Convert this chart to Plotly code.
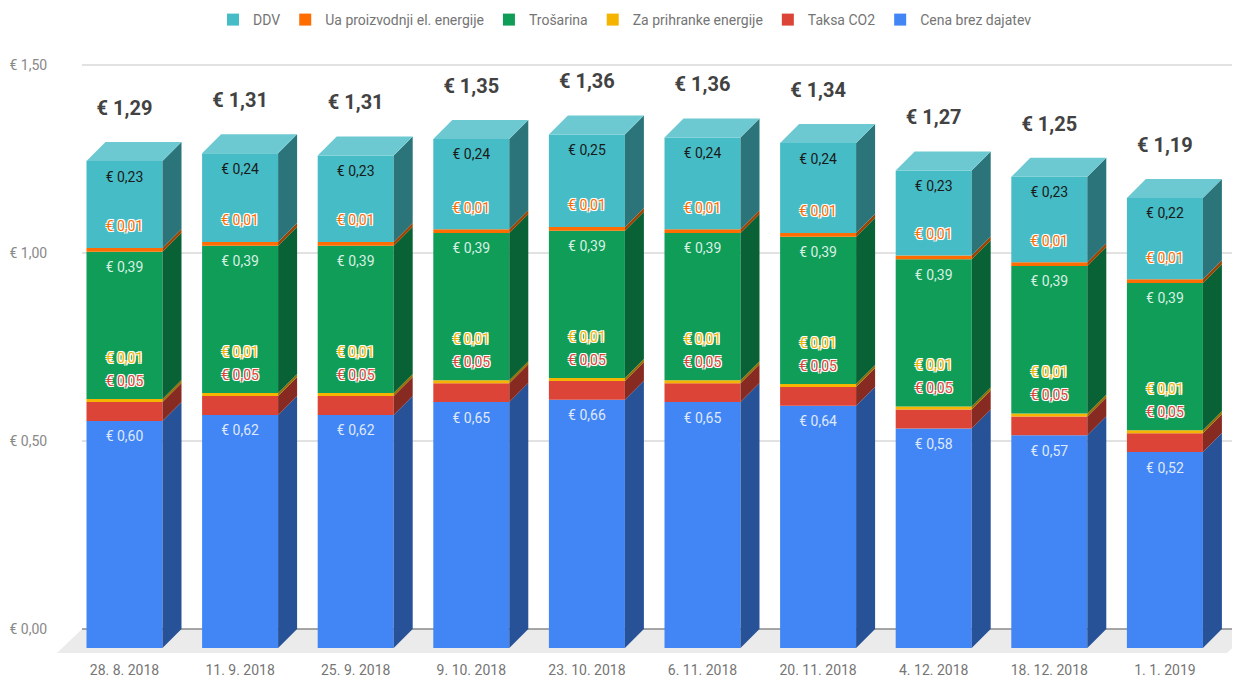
import plotly.graph_objects as go

dates = ["28. 8. 2018", "11. 9. 2018", "25. 9. 2018", "9. 10. 2018", "23. 10. 2018",
         "6. 11. 2018", "20. 11. 2018", "4. 12. 2018", "18. 12. 2018", "1. 1. 2019"]
cena = [0.604, 0.620, 0.620, 0.654, 0.660, 0.654, 0.644, 0.584, 0.566, 0.521]
taksa = [0.05] * 10
prihranki = [0.008] * 10
trosarina = [0.392] * 10
proizvodnja = [0.01] * 10
ddv = [0.231, 0.236, 0.230, 0.240, 0.246, 0.244, 0.239, 0.226, 0.227, 0.216]
totals = [1.29, 1.31, 1.31, 1.35, 1.36, 1.36, 1.34, 1.27, 1.25, 1.19]
y_ticks = [0, 0.5, 1.0, 1.5]

# The page has an 8px body margin: figure coordinates = target pixel - 8
OFF = 8
W, H = 1240 - OFF, 677 - OFF
L, R, T, B = 57 - OFF, 0, 62 - OFF, 22
ZERO = 629 - OFF
CX0 = 124.5 - OFF
PX_Y = 376.0
PX_X = 115.6
DEPTH_X = 19 / PX_X
DEPTH_Y = 19 / PX_Y
BAR_W = 76 / PX_X
FONT = "Roboto"


def eur(v):
    return "€ " + f"{v:.2f}".replace(".", ",")


def shade(hex_color, f):
    r, g, b = (int(hex_color[i:i + 2], 16) for i in (1, 3, 5))
    return f"rgb({int(r * f)},{int(g * f)},{int(b * f)})"


series = [
    ("Cena brez dajatev", cena, "#4285f4", "#dfe9fd", 17, False),
    ("Taksa CO2", taksa, "#db4437", "#db4437", -20, True),
    ("Za prihranke energije", prihranki, "#f4b400", "#f4b400", -40, True),
    ("Trošarina", trosarina, "#0f9d58", "#d8f0e3", 17, False),
    ("Ua proizvodnji el. energije", proizvodnja, "#ff6d01", "#ff6d01", -20, True),
    ("DDV", ddv, "#46bdc6", "#1a1a1a", 17, False),
]
HALO = "-1px -1px 0 #fff,1px -1px 0 #fff,-1px 1px 0 #fff,1px 1px 0 #fff,0 0 2px #fff"

xs = list(range(len(dates)))
cum = [0.0] * len(xs)
bars, faces, labels = [], [], []
for name, vals, color, txt, off, halo in series:
    bases = [c - DEPTH_Y for c in cum]
    bars.append(go.Bar(x=xs, y=vals, base=bases, width=BAR_W, name=name,
                       marker=dict(color=color, line=dict(width=0)), hoverinfo="skip"))
    sx, sy = [], []
    tops = [c + v for c, v in zip(cum, vals)]
    for x, lo, hi in zip(xs, cum, tops):
        rx = x + BAR_W / 2
        sx += [rx, rx + DEPTH_X, rx + DEPTH_X, rx, rx, None]
        sy += [lo - DEPTH_Y, lo, hi, hi - DEPTH_Y, lo - DEPTH_Y, None]
    faces.append(go.Scatter(x=sx, y=sy, mode="lines", fill="toself", fillcolor=shade(color, 0.62),
                            line=dict(width=0), showlegend=False, hoverinfo="skip"))
    font = dict(family=FONT, size=14, color=txt)
    if halo:
        font["shadow"] = HALO
    labels.append(go.Scatter(x=xs, y=[t - DEPTH_Y - off / PX_Y for t in tops], mode="text",
                             text=[eur(v) for v in vals], textposition="middle center",
                             textfont=font, showlegend=False, hoverinfo="skip"))
    cum = tops

top_x, top_y = [], []
for x, t in zip(xs, cum):
    l, r = x - BAR_W / 2, x + BAR_W / 2
    top_x += [l, r, r + DEPTH_X, l + DEPTH_X, l, None]
    top_y += [t - DEPTH_Y, t - DEPTH_Y, t, t, t - DEPTH_Y, None]
top_face = go.Scatter(x=top_x, y=top_y, mode="lines", fill="toself", fillcolor="#6cc9d1",
                      line=dict(width=0), showlegend=False, hoverinfo="skip")
total_labels = go.Scatter(x=xs, y=[t - DEPTH_Y + 51 / PX_Y for t in cum], mode="text",
                          text=[eur(v) for v in totals], textposition="middle center",
                          textfont=dict(family=FONT, size=20, color="#424242", weight="bold"),
                          showlegend=False, hoverinfo="skip")


def paper(px):
    return (px - OFF - L) / (W - L - R)


shapes = [dict(type="path", xref="paper", yref="y", layer="below", line=dict(width=0),
               fillcolor="#ebebeb",
               path=f"M {paper(82)} 0 L {paper(1252)} 0 L {paper(1227)} {-24 / PX_Y} L {paper(57)} {-24 / PX_Y} Z")]
for v in y_ticks:
    shapes.append(dict(type="line", xref="paper", yref="y", layer="below", x0=paper(82), x1=1,
                       y0=v, y1=v, line=dict(color="#8a8a8a" if v == 0 else "#d9d9d9", width=1.5)))

fig = go.Figure(bars + faces + [top_face] + labels + [total_labels])
fig.update_layout(
    width=W, height=H, autosize=False, barmode="overlay",
    margin=dict(l=L, r=R, t=T, b=B, pad=0),
    paper_bgcolor="#fff", plot_bgcolor="rgba(0,0,0,0)",
    font=dict(family=FONT, size=13, color="#757575"),
    shapes=shapes,
    legend=dict(orientation="h", traceorder="reversed", x=(625 - OFF) / W, xref="container", xanchor="center",
                y=1 - 12 / H, yref="container", yanchor="middle",
                font=dict(family=FONT, size=14, color="#757575"),
                itemclick=False, itemdoubleclick=False),
    xaxis=dict(range=[(L - CX0) / PX_X, (W - R - CX0) / PX_X], tickmode="array", tickvals=xs,
               ticktext=dates, showgrid=False, zeroline=False, showline=False, automargin=False,
               ticks="outside", ticklen=2, tickcolor="rgba(0,0,0,0)", tickfont=dict(size=14, color="#757575")),
    yaxis=dict(range=[(ZERO - (H - B)) / PX_Y, (ZERO - T) / PX_Y], tickmode="array", tickvals=y_ticks,
               ticktext=[eur(v) for v in y_ticks], showgrid=False, zeroline=False, showline=False, automargin=False,
               ticks="outside", ticklen=6, tickcolor="rgba(0,0,0,0)", tickfont=dict(size=14, color="#888888")),
)
fig.write_html("out.html")
